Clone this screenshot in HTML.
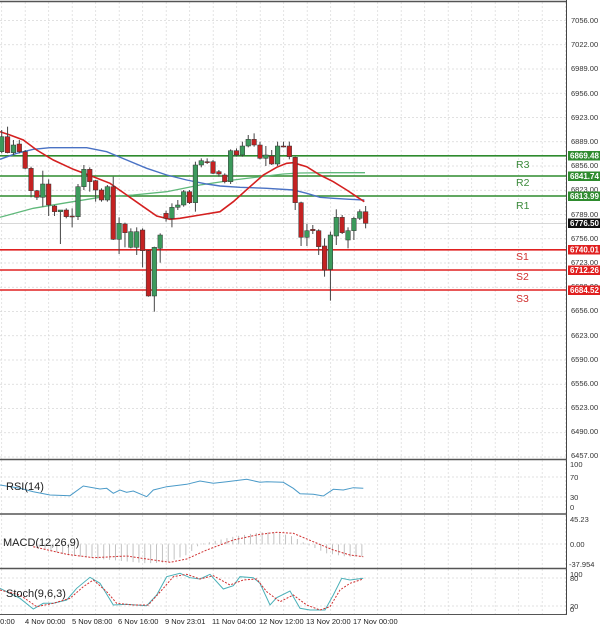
<!DOCTYPE html>
<html><head><meta charset="utf-8"><style>
html,body{margin:0;padding:0;background:#fff;width:600px;height:631px;overflow:hidden}
svg{display:block;font-family:"Liberation Sans",sans-serif}
</style></head><body>
<svg id="s" width="600" height="631" viewBox="0 0 600 631" xmlns="http://www.w3.org/2000/svg">
<rect width="600" height="631" fill="#fff"/>
<g id="grid"></g>
<g id="plots"></g>
<line x1="0" y1="1.5" x2="567" y2="1.5" stroke="#555" stroke-width="1.5"/>
<line x1="566.5" y1="0" x2="566.5" y2="615" stroke="#444" stroke-width="1"/>
<line x1="0" y1="459.5" x2="567" y2="459.5" stroke="#555" stroke-width="1.5"/>
<line x1="0" y1="514" x2="567" y2="514" stroke="#555" stroke-width="1.5"/>
<line x1="0" y1="568.5" x2="567" y2="568.5" stroke="#555" stroke-width="1.5"/>
<line x1="0" y1="614.5" x2="567" y2="614.5" stroke="#555" stroke-width="1"/>
<g font-size="7.5" fill="#333">
<text x="571" y="23">7056.00</text><text x="571" y="47">7022.00</text><text x="571" y="71">6989.00</text>
<text x="571" y="96">6956.00</text><text x="571" y="120">6923.00</text><text x="571" y="144">6889.00</text>
<text x="571" y="168">6856.00</text><text x="571" y="192">6823.00</text><text x="571" y="217">6789.00</text>
<text x="571" y="241">6756.00</text><text x="571" y="265">6723.00</text><text x="571" y="289">6690.00</text>
<text x="571" y="313">6656.00</text><text x="571" y="338">6623.00</text><text x="571" y="362">6590.00</text>
<text x="571" y="386">6556.00</text><text x="571" y="410">6523.00</text><text x="571" y="434">6490.00</text>
<text x="571" y="458">6457.00</text>
<text x="570" y="467">100</text><text x="570" y="480">70</text><text x="570" y="500">30</text><text x="570" y="510">0</text>
<text x="570" y="522">45.23</text><text x="570" y="547">0.00</text><text x="569" y="567">-37.954</text>
<text x="570" y="577">100</text><text x="570" y="581">80</text><text x="570" y="609">20</text><text x="570" y="612">0</text>
</g>
<g font-size="7.5" fill="#222">
<text x="-4" y="624">20:00</text><text x="25" y="624">4 Nov 00:00</text><text x="72" y="624">5 Nov 08:00</text>
<text x="118" y="624">6 Nov 16:00</text><text x="165" y="624">9 Nov 23:01</text><text x="212" y="624">11 Nov 04:00</text>
<text x="259" y="624">12 Nov 12:00</text><text x="306" y="624">13 Nov 20:00</text><text x="353" y="624">17 Nov 00:00</text>
</g>
<g font-size="8" font-weight="bold" fill="#fff">
<rect x="568" y="151" width="32" height="9.5" fill="#2e8b2e"/><text x="570" y="158.5">6869.48</text>
<rect x="568" y="171.5" width="32" height="9.5" fill="#2e8b2e"/><text x="570" y="179">6841.74</text>
<rect x="568" y="191.5" width="32" height="9.5" fill="#2e8b2e"/><text x="570" y="199">6813.99</text>
<rect x="568" y="218.5" width="32" height="9.5" fill="#111"/><text x="570" y="226">6776.50</text>
<rect x="568" y="245" width="32" height="9.5" fill="#e02020"/><text x="570" y="252.5">6740.01</text>
<rect x="568" y="265.5" width="32" height="9.5" fill="#e02020"/><text x="570" y="273">6712.26</text>
<rect x="568" y="285.5" width="32" height="9.5" fill="#e02020"/><text x="570" y="293">6684.52</text>
</g>
<g font-size="10.5">
<text x="516" y="168" fill="#3a8a3a">R3</text><text x="516" y="186" fill="#3a8a3a">R2</text><text x="516" y="209" fill="#3a8a3a">R1</text>
<text x="516" y="260" fill="#d03030">S1</text><text x="516" y="280" fill="#d03030">S2</text><text x="516" y="302" fill="#d03030">S3</text>
</g>
<g font-size="11" fill="#222">
<text x="6" y="490">RSI(14)</text><text x="3" y="546">MACD(12,26,9)</text><text x="6" y="597">Stoch(9,6,3)</text>
</g>
</svg>
<script>
var NS="http://www.w3.org/2000/svg",g=document.getElementById('grid'),p=document.getElementById('plots');
function el(par,t,a){var e=document.createElementNS(NS,t);for(var k in a)e.setAttribute(k,a[k]);par.insertBefore?par.appendChild(e):0;return e;}
for(var x=1.7;x<566;x+=23.5){[[2,459],[460,513],[515,568],[569,614]].forEach(function(r){el(g,'line',{x1:x,y1:r[0],x2:x,y2:r[1],stroke:'#d8d8d8','stroke-width':0.7,'stroke-dasharray':'2,2'});});}
for(var i=0;i<19;i++){var y=20.5+i*24.25;el(g,'line',{x1:0,y1:y,x2:566,y2:y,stroke:'#d8d8d8','stroke-width':0.7,'stroke-dasharray':'2,2'});}
[477,497,544,578,606].forEach(function(y){el(g,'line',{x1:0,y1:y,x2:566,y2:y,stroke:'#d8d8d8','stroke-width':0.7,'stroke-dasharray':'2,2'});});
[[155.8,'#2e8b2e'],[176,'#2e8b2e'],[196,'#2e8b2e'],[249.8,'#e02020'],[270,'#e02020'],[290,'#e02020']].forEach(function(l){el(p,'line',{x1:0,y1:l[0],x2:567,y2:l[0],stroke:l[1],'stroke-width':1.6});});
el(p,'line',{x1:0,y1:223.4,x2:567,y2:223.4,stroke:'#ccc','stroke-width':0.7});
function Y(z){return 110+z/3;}
function Z(z){return 455+z/3;}
function line(pts,col,w,dash,zy){var d=pts.map(function(q,i){return (i?'L':'M')+(q[0]/3).toFixed(1)+' '+(zy(q[1])).toFixed(1);}).join(' ');var a={d:d,fill:'none',stroke:col,'stroke-width':w};if(dash)a['stroke-dasharray']=dash;el(p,'path',a);}
line([[0,322],[100,295],[200,278],[300,262],[400,255],[500,245],[600,225],[700,210],[800,198],[850,192],[900,189],[990,188],[1095,188]],'#5fb87a',1.3,null,Y);
line([[0,148],[50,130],[100,118],[150,113],[260,113],[320,125],[380,150],[440,175],[500,195],[560,210],[620,222],[660,228],[720,232],[800,235],[880,240],[920,250],[960,262],[1000,265],[1050,268],[1093,270]],'#4a72c4',1.4,null,Y);
line([[0,65],[30,75],[70,90],[110,120],[160,150],[220,178],[280,200],[330,220],[380,255],[430,290],[470,318],[510,328],[540,325],[600,315],[660,305],[700,275],[750,230],[790,195],[830,172],[860,160],[880,158],[920,170],[960,195],[1000,215],[1040,240],[1070,260],[1093,275]],'#d42020',1.6,null,Y);
var C=[[125,80,60,130],[80,128,50,130],[128,105,90,135],[102,125,90,130],[125,175,120,178],[175,242,170,262],[242,262,240,270],[262,222,182,290],[222,285,208,318],[288,305,285,318],[305,300,300,402],[300,320,295,325],[318,320,295,352],[320,230,222,330],[230,178,165,240],[178,215,172,245],[212,240,210,275],[240,270,235,275],[270,230,225,275],[230,388,200,390],[388,340,322,432],[342,368,338,412],[412,365,355,415],[412,365,352,435],[360,422,355,472],[422,558,420,560],[558,412,410,605],[415,375,370,458],[310,325,302,335],[325,292,280,352],[292,285,270,300],[285,245,240,290],[245,278,240,282],[278,165,155,305],[165,152,145,172],[155,156,145,162],[155,190,150,192],[185,192,180,200],[195,215,190,220],[215,122,118,222],[122,135,115,140],[135,108,95,140],[108,88,75,112],[88,105,70,110],[105,145,95,148],[145,135,108,168],[138,162,120,165],[162,108,95,168],[108,108,95,112],[108,140,95,148],[142,278,140,300],[278,382,275,408],[382,362,342,408],[358,362,345,372],[362,410,358,435],[408,480,385,500],[478,375,365,572],[378,322,298,405],[322,368,315,372],[390,362,352,415],[362,325,320,390],[325,305,298,330],[305,340,288,355]];
C.forEach(function(c,i){var x=1.7+5.87*i;var up=c[1]<c[0];var t=Y(Math.min(c[0],c[1])),b=Y(Math.max(c[0],c[1]));if(b-t<1)b=t+1;
el(p,'line',{x1:x,y1:Y(c[2]),x2:x,y2:Y(c[3]),stroke:'#444','stroke-width':1});
el(p,'rect',{x:x-2.3,y:t,width:4.6,height:b-t,fill:up?'#3c9a5c':'#c42222',stroke:'#333','stroke-width':0.5});});
// RSI
line([[0,90],[60,100],[100,110],[150,120],[210,122],[250,93],[300,102],[320,100],[340,115],[360,105],[380,112],[400,108],[440,125],[460,105],[500,95],[560,88],[600,78],[640,85],[680,80],[740,73],[780,82],[800,80],[850,82],[880,100],[900,116],[940,118],[970,123],[1000,103],[1030,105],[1060,98],[1090,100]],'#4a9ac8',1,null,Z);
// MACD
function interp(a,x){for(var i=1;i<a.length;i++)if(x<=a[i][0]){var f=(x-a[i-1][0])/(a[i][0]-a[i-1][0]);return a[i-1][1]+f*(a[i][1]-a[i-1][1]);}return a[a.length-1][1];}
var hist=[[100,272],[200,300],[300,312],[440,325],[500,322],[560,300],[600,268],[700,245],[780,232],[830,232],[880,245],[920,268],[980,295],[1040,305],[1095,305]];
for(var zx=100;zx<=1095;zx+=17.6){var v=interp(hist,zx);el(p,'line',{x1:zx/3,y1:Z(268),x2:zx/3,y2:Z(v),stroke:'#bbb','stroke-width':0.9});}
line([[100,275],[200,298],[280,308],[380,303],[440,312],[510,322],[560,312],[620,285],[700,255],[780,238],[830,232],[880,235],[940,260],[1000,285],[1050,300],[1090,305]],'#d03030',1,'2,1.5',Z);
// Stoch
var st=[[0,400],[60,430],[100,462],[130,445],[160,445],[200,435],[230,400],[270,367],[300,385],[340,450],[380,448],[440,452],[470,420],[500,365],[540,355],[570,368],[600,372],[630,358],[670,402],[700,392],[720,365],[760,368],[780,385],[810,450],[830,428],[870,408],[900,460],[930,465],[975,465],[1000,420],[1025,370],[1050,375],[1090,370]];
line(st,'#4ab0b8',1,null,Z);
line([[0,405],[60,420],[110,455],[160,445],[210,430],[250,395],[280,375],[320,410],[350,445],[400,450],[445,450],[490,400],[520,365],[560,358],[600,372],[640,362],[690,390],[730,375],[770,372],[800,410],[840,440],[880,420],[920,450],[960,465],[990,455],[1020,405],[1050,385],[1090,372]],'#d03030',1,'2,1.5',Z);
</script>
</body></html>
